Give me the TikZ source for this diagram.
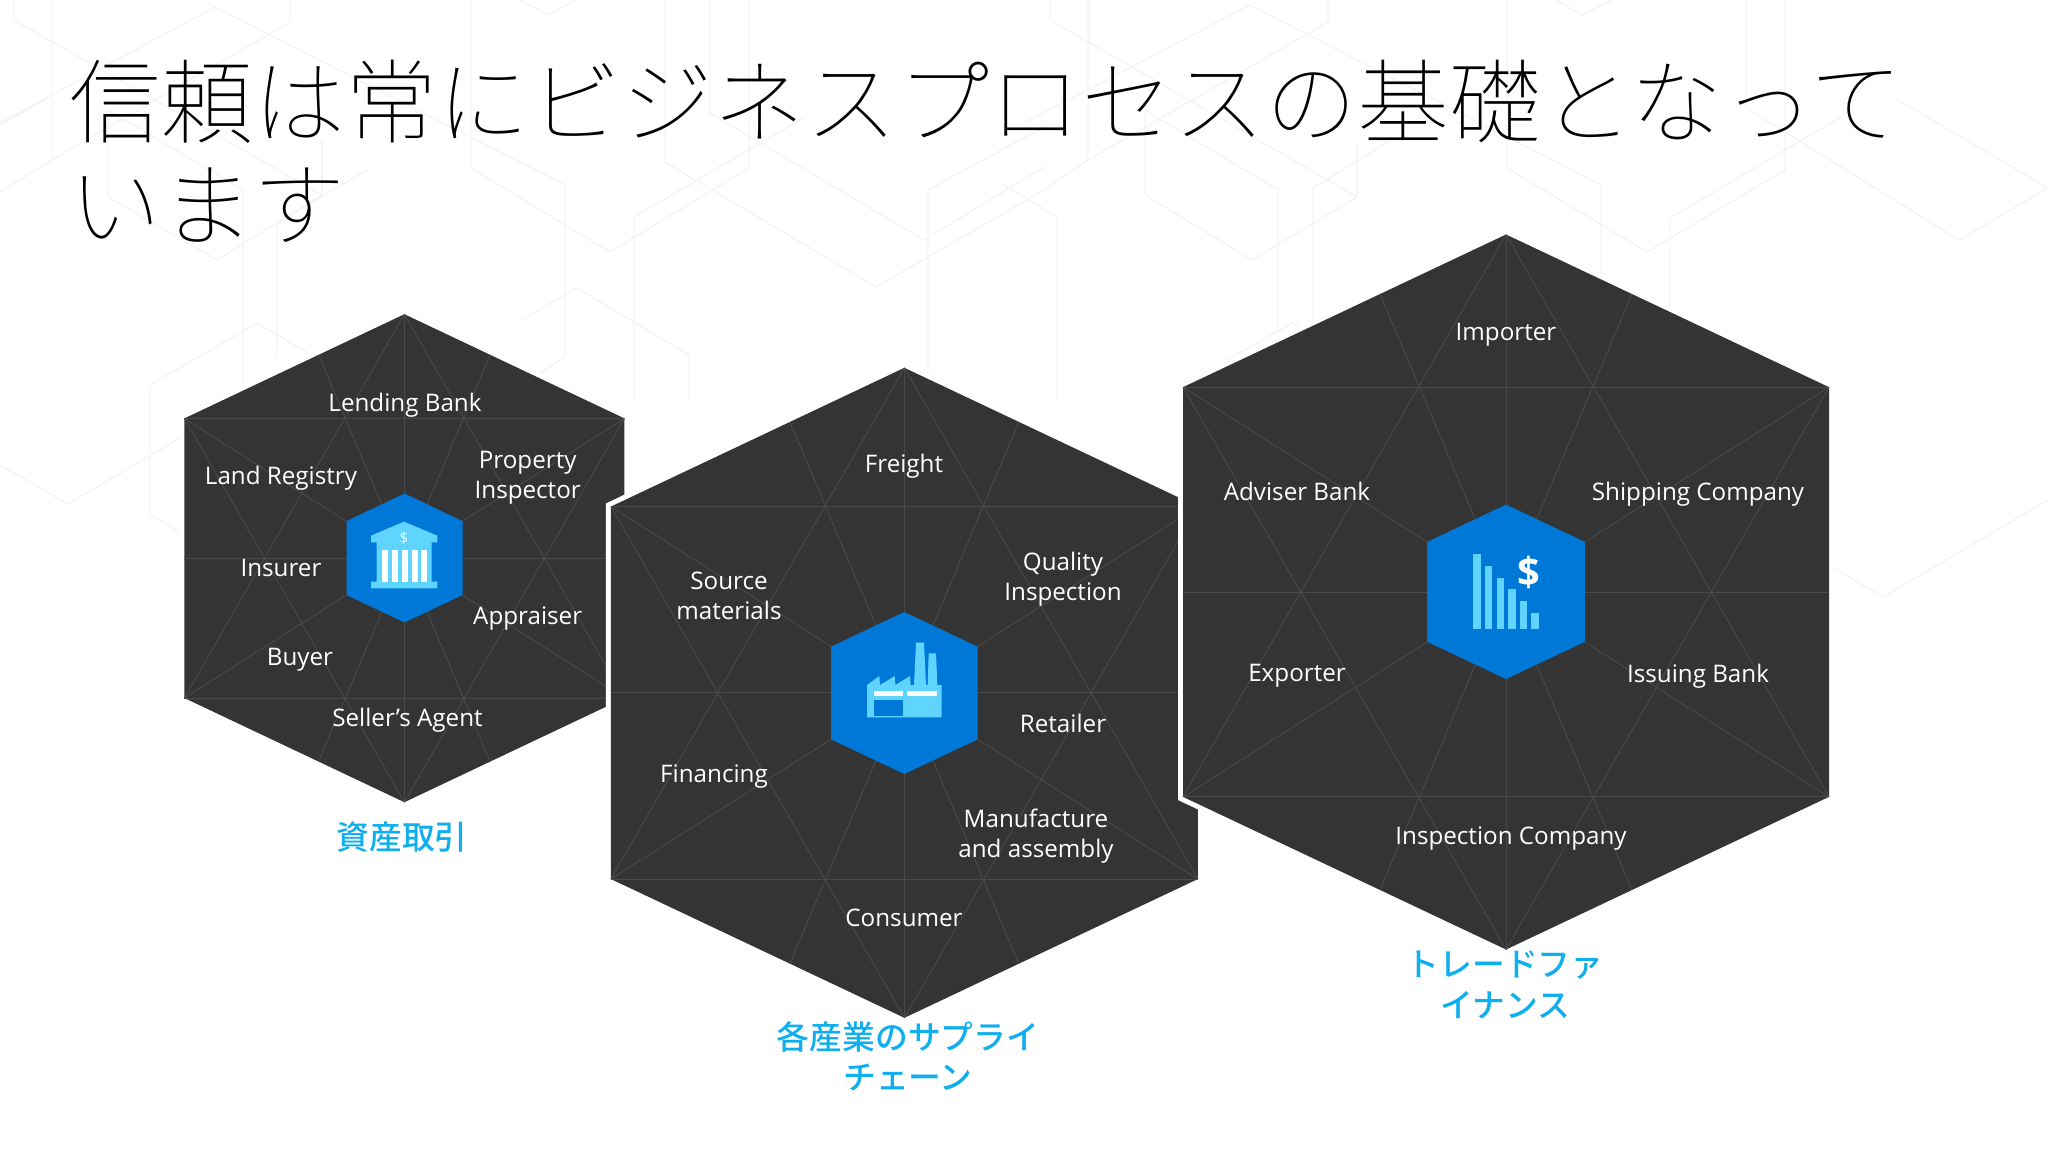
\documentclass[tikz,border=0pt]{standalone}
\usepackage{fontspec}
\setmainfont{Open Sans}
\newfontfamily\cjktitle{Noto Sans CJK JP Thin}
\newfontfamily\cjkcaption{Noto Sans CJK JP Medium}
\usepackage{tikz}
\definecolor{panelgrey}{HTML}{343435}
\definecolor{gridgrey}{HTML}{4A4A4B}
\definecolor{bggrey}{HTML}{F4F4F4}
\definecolor{hexblue}{HTML}{0078D7}
\definecolor{iconsky}{HTML}{5FD4FF}
\definecolor{captionblue}{HTML}{0FAEEC}
\tikzstyle{hexpanel} = [fill=panelgrey, draw=white, line width=5pt, miter limit=10]
\tikzstyle{hexface} = [fill=panelgrey]
\tikzstyle{hexgrid} = [draw=gridgrey, line width=.45pt]
\tikzstyle{hexcore} = [fill=hexblue]
\tikzstyle{bgline} = [draw=bggrey, line width=.7pt]
\tikzstyle{iconsky} = [fill=iconsky]
\tikzstyle{iconwhite} = [fill=white]
\tikzstyle{cell} = [text=white, align=center, inner sep=0pt, font=\fontsize{12.1}{15}\selectfont]
\tikzstyle{caption} = [text=captionblue, align=center, inner sep=0pt, font=\cjkcaption\fontsize{16.4}{20.2}\selectfont]
% panel: name, centre x, centre y, half width, half height
\newcommand{\hexpanel}[5]{
	\coordinate (#1t) at (#2,#3-#5);
	\coordinate (#1ur) at (#2+#4,#3-.573*#5);
	\coordinate (#1lr) at (#2+#4,#3+.573*#5);
	\coordinate (#1b) at (#2,#3+#5);
	\coordinate (#1ll) at (#2-#4,#3+.573*#5);
	\coordinate (#1ul) at (#2-#4,#3-.573*#5);
	\coordinate (#1l) at (#2-#4,#3);
	\coordinate (#1r) at (#2+#4,#3);
	\coordinate (#1mtr) at (#2+.39*#4,#3-.8335*#5);
	\coordinate (#1mbl) at (#2-.39*#4,#3+.8335*#5);
	\coordinate (#1mtl) at (#2-.39*#4,#3-.8335*#5);
	\coordinate (#1mbr) at (#2+.39*#4,#3+.8335*#5);
	\path [hexpanel] (#1t) -- (#1ur) -- (#1lr) -- (#1b) -- (#1ll) -- (#1ul) -- cycle;
	\path [hexface] (#1t) -- (#1ur) -- (#1lr) -- (#1b) -- (#1ll) -- (#1ul) -- cycle;
	\draw [hexgrid] (#1t) -- (#1b) (#1l) -- (#1r) (#1ul) -- (#1ur) (#1ll) -- (#1lr);
	\draw [hexgrid] (#1ul) -- (#1lr) (#1ur) -- (#1ll) (#1mtr) -- (#1mbl) (#1mtl) -- (#1mbr);
	\draw [hexgrid] (#1t) -- (#1lr) (#1t) -- (#1ll) (#1b) -- (#1ur) (#1b) -- (#1ul);
}
% blue core: name, centre x, centre y, half width, half height
\newcommand{\hexcorepath}[5]{
	\path [hexcore] (#2,#3-#5) -- (#2+#4,#3-.573*#5) -- (#2+#4,#3+.573*#5) -- (#2,#3+#5) -- (#2-#4,#3+.573*#5) -- (#2-#4,#3-.573*#5) -- cycle;
	\coordinate (#1) at (#2,#3);
}

\begin{document}
\begin{tikzpicture}[x=.5pt, y=-.5pt]
	\useasboundingbox (0,0) rectangle (2048,1152);

	% faint background outlines
	\draw [bgline] (52,0) -- (52,160) -- (0,192) (52,160) -- (290,22) -- (290,0);
	\draw [bgline] (14,0) -- (14,20) -- (322,195) -- (217,260) -- (108,197) -- (108,110) -- (243,190) -- (243,383);
	\draw [bgline] (322,195) -- (322,140);
	\draw [bgline] (0,123) -- (215,7) -- (565,185) -- (565,357) -- (540,373);
	\draw [bgline] (0,125) -- (45,100);
	\draw [bgline] (277,358) -- (277,223) -- (367,170);
	\draw [bgline] (308,353) -- (257,323) -- (150,385) -- (150,515) -- (180,532);
	\draw [bgline] (0,465) -- (68,504) -- (180,438);
	\draw [bgline] (471,0) -- (471,168) -- (610,252) -- (749,168) -- (749,0);
	\draw [bgline] (665,0) -- (665,162) -- (876,287) -- (1044,190) -- (1088,160) -- (1088,0);
	\draw [bgline] (634,400) -- (634,217) -- (805,117);
	\draw [bgline] (522,320) -- (577,288) -- (689,355) -- (689,400);
	\draw [bgline] (710,0) -- (710,113) -- (924,240) -- (1044,167);
	\draw [bgline] (928,373) -- (928,190) -- (1044,127);
	\draw [bgline] (519,0) -- (549,15) -- (575,0);
	\draw [bgline] (1000,183) -- (1057,217) -- (1057,400);
	\draw [bgline] (1050,0) -- (1050,20) -- (1357,197) -- (1252,260) -- (1145,195) -- (1145,110) -- (1278,190) -- (1278,333);
	\draw [bgline] (1357,197) -- (1357,143);
	\draw [bgline] (1024,123) -- (1250,5) -- (1601,185) -- (1601,273);
	\draw [bgline] (1089,0) -- (1089,43);
	\draw [bgline] (1088,160) -- (1328,22) -- (1328,0);
	\draw [bgline] (1313,317) -- (1313,188) -- (1388,142);
	\draw [bgline] (1227,360) -- (1292,323) -- (1308,332);
	\draw [bgline] (1507,0) -- (1507,168) -- (1647,252) -- (1785,170) -- (1785,0);
	\draw [bgline] (1670,307) -- (1670,218) -- (1841,117);
	\draw [bgline] (1746,0) -- (1746,108) -- (1959,240) -- (2048,188) -- (1898,100);
	\draw [bgline] (1556,0) -- (1582,15) -- (1612,0);
	\draw [bgline] (1834,568) -- (1883,597) -- (2048,500);

	\node (title) [anchor=north west, inner sep=0pt, align=left, font=\cjktitle\fontsize{46}{51.5}\selectfont] at (69,60) {信頼は常にビジネスプロセスの基礎となって\\います};

	% asset panel
	\hexpanel{a}{404.4}{558.2}{220}{244}
	\hexcorepath{acore}{404.5}{558}{58}{64.5}
	\begin{scope}[shift={(330,480)}, x=.16667pt, y=-.16667pt]
		\path [iconsky] (222,125) -- (322,167) -- (322,187) -- (305,187) -- (305,305) -- (322,305) -- (322,325) -- (123,325) -- (123,305) -- (140,305) -- (140,187) -- (123,187) -- (123,167) -- cycle;
		\foreach \colx in {157,186,215,245,274} {
			\path [iconwhite] (\colx,210) rectangle (\colx+18,305);
		}
		\node (abank) [text=white, inner sep=0pt, font=\fontsize{7.5}{9}\selectfont] at (222,175) {\$};
	\end{scope}
	\node (alend) [cell] at (405,405) {Lending Bank};
	\node (aland) [cell] at (281,478.5) {Land Registry};
	\node (aprop) [cell] at (527.7,478) {Property\\Inspector};
	\node (ains) [cell] at (281,568) {Insurer};
	\node (aappr) [cell] at (527.7,618.5) {Appraiser};
	\node (abuy) [cell] at (300,659.5) {Buyer};
	\node (asell) [cell] at (407.5,720) {Seller’s Agent};
	\node (acap) [caption] at (402,837) {資産取引};

	% supply chain panel
	\hexpanel{s}{904.4}{692.8}{293.5}{325}
	\hexcorepath{score}{904.3}{693}{73.2}{81}
	\begin{scope}[shift={(820,600)}, x=.16667pt, y=-.16667pt]
		\path [iconsky] (141,352) -- (141,255) -- (178,228) -- (180,255) -- (224,228) -- (226,255) -- (270,228) -- (272,255) -- (282,255) -- (288,128) -- (312,128) -- (318,255) -- (323,255) -- (326,160) -- (348,160) -- (352,255) -- (365,255) -- (365,352) -- cycle;
		\path [iconwhite] (162,273) rectangle (248,288);
		\path [iconwhite] (262,273) rectangle (350,288);
		\path [hexcore] (162,301) rectangle (248,349);
	\end{scope}
	\node (sfre) [cell] at (904,466) {Freight};
	\node (squa) [cell] at (1063,579.5) {Quality\\Inspection};
	\node (ssou) [cell] at (729,596) {Source\\materials};
	\node (sret) [cell] at (1063,723.6) {Retailer};
	\node (sfin) [cell] at (714,777) {Financing};
	\node (sman) [cell] at (1036,836) {Manufacture\\and assembly};
	\node (scon) [cell] at (904,918) {Consumer};
	\node (scap) [caption] at (908,1056) {各産業のサプライ\\チェーン};

	% trade finance panel
	\hexpanel{t}{1506}{592}{323}{357.5}
	\hexcorepath{tcore}{1506}{591.8}{78.8}{87.2}
	\begin{scope}[shift={(1420,500)}, x=.16667pt, y=-.16667pt]
		\path [iconsky] (159,163) rectangle (182,388);
		\path [iconsky] (195,199) rectangle (217,388);
		\path [iconsky] (230,234) rectangle (252,388);
		\path [iconsky] (265,268) rectangle (287,388);
		\path [iconsky] (300,303) rectangle (321,388);
		\path [iconsky] (334,339) rectangle (356,388);
		\node (tdollar) [text=white, inner sep=0pt, font=\bfseries\fontsize{20}{24}\selectfont] at (328,218) {\$};
	\end{scope}
	\node (timp) [cell] at (1506,335) {Importer};
	\node (tadv) [cell] at (1297,491) {Adviser Bank};
	\node (tshi) [cell] at (1698,494) {Shipping Company};
	\node (texp) [cell] at (1297,676) {Exporter};
	\node (tiss) [cell] at (1698,676) {Issuing Bank};
	\node (tins) [cell] at (1511,839) {Inspection Company};
	\node (tcap) [caption] at (1505,985) {トレードファ\\イナンス};
\end{tikzpicture}
\end{document}
